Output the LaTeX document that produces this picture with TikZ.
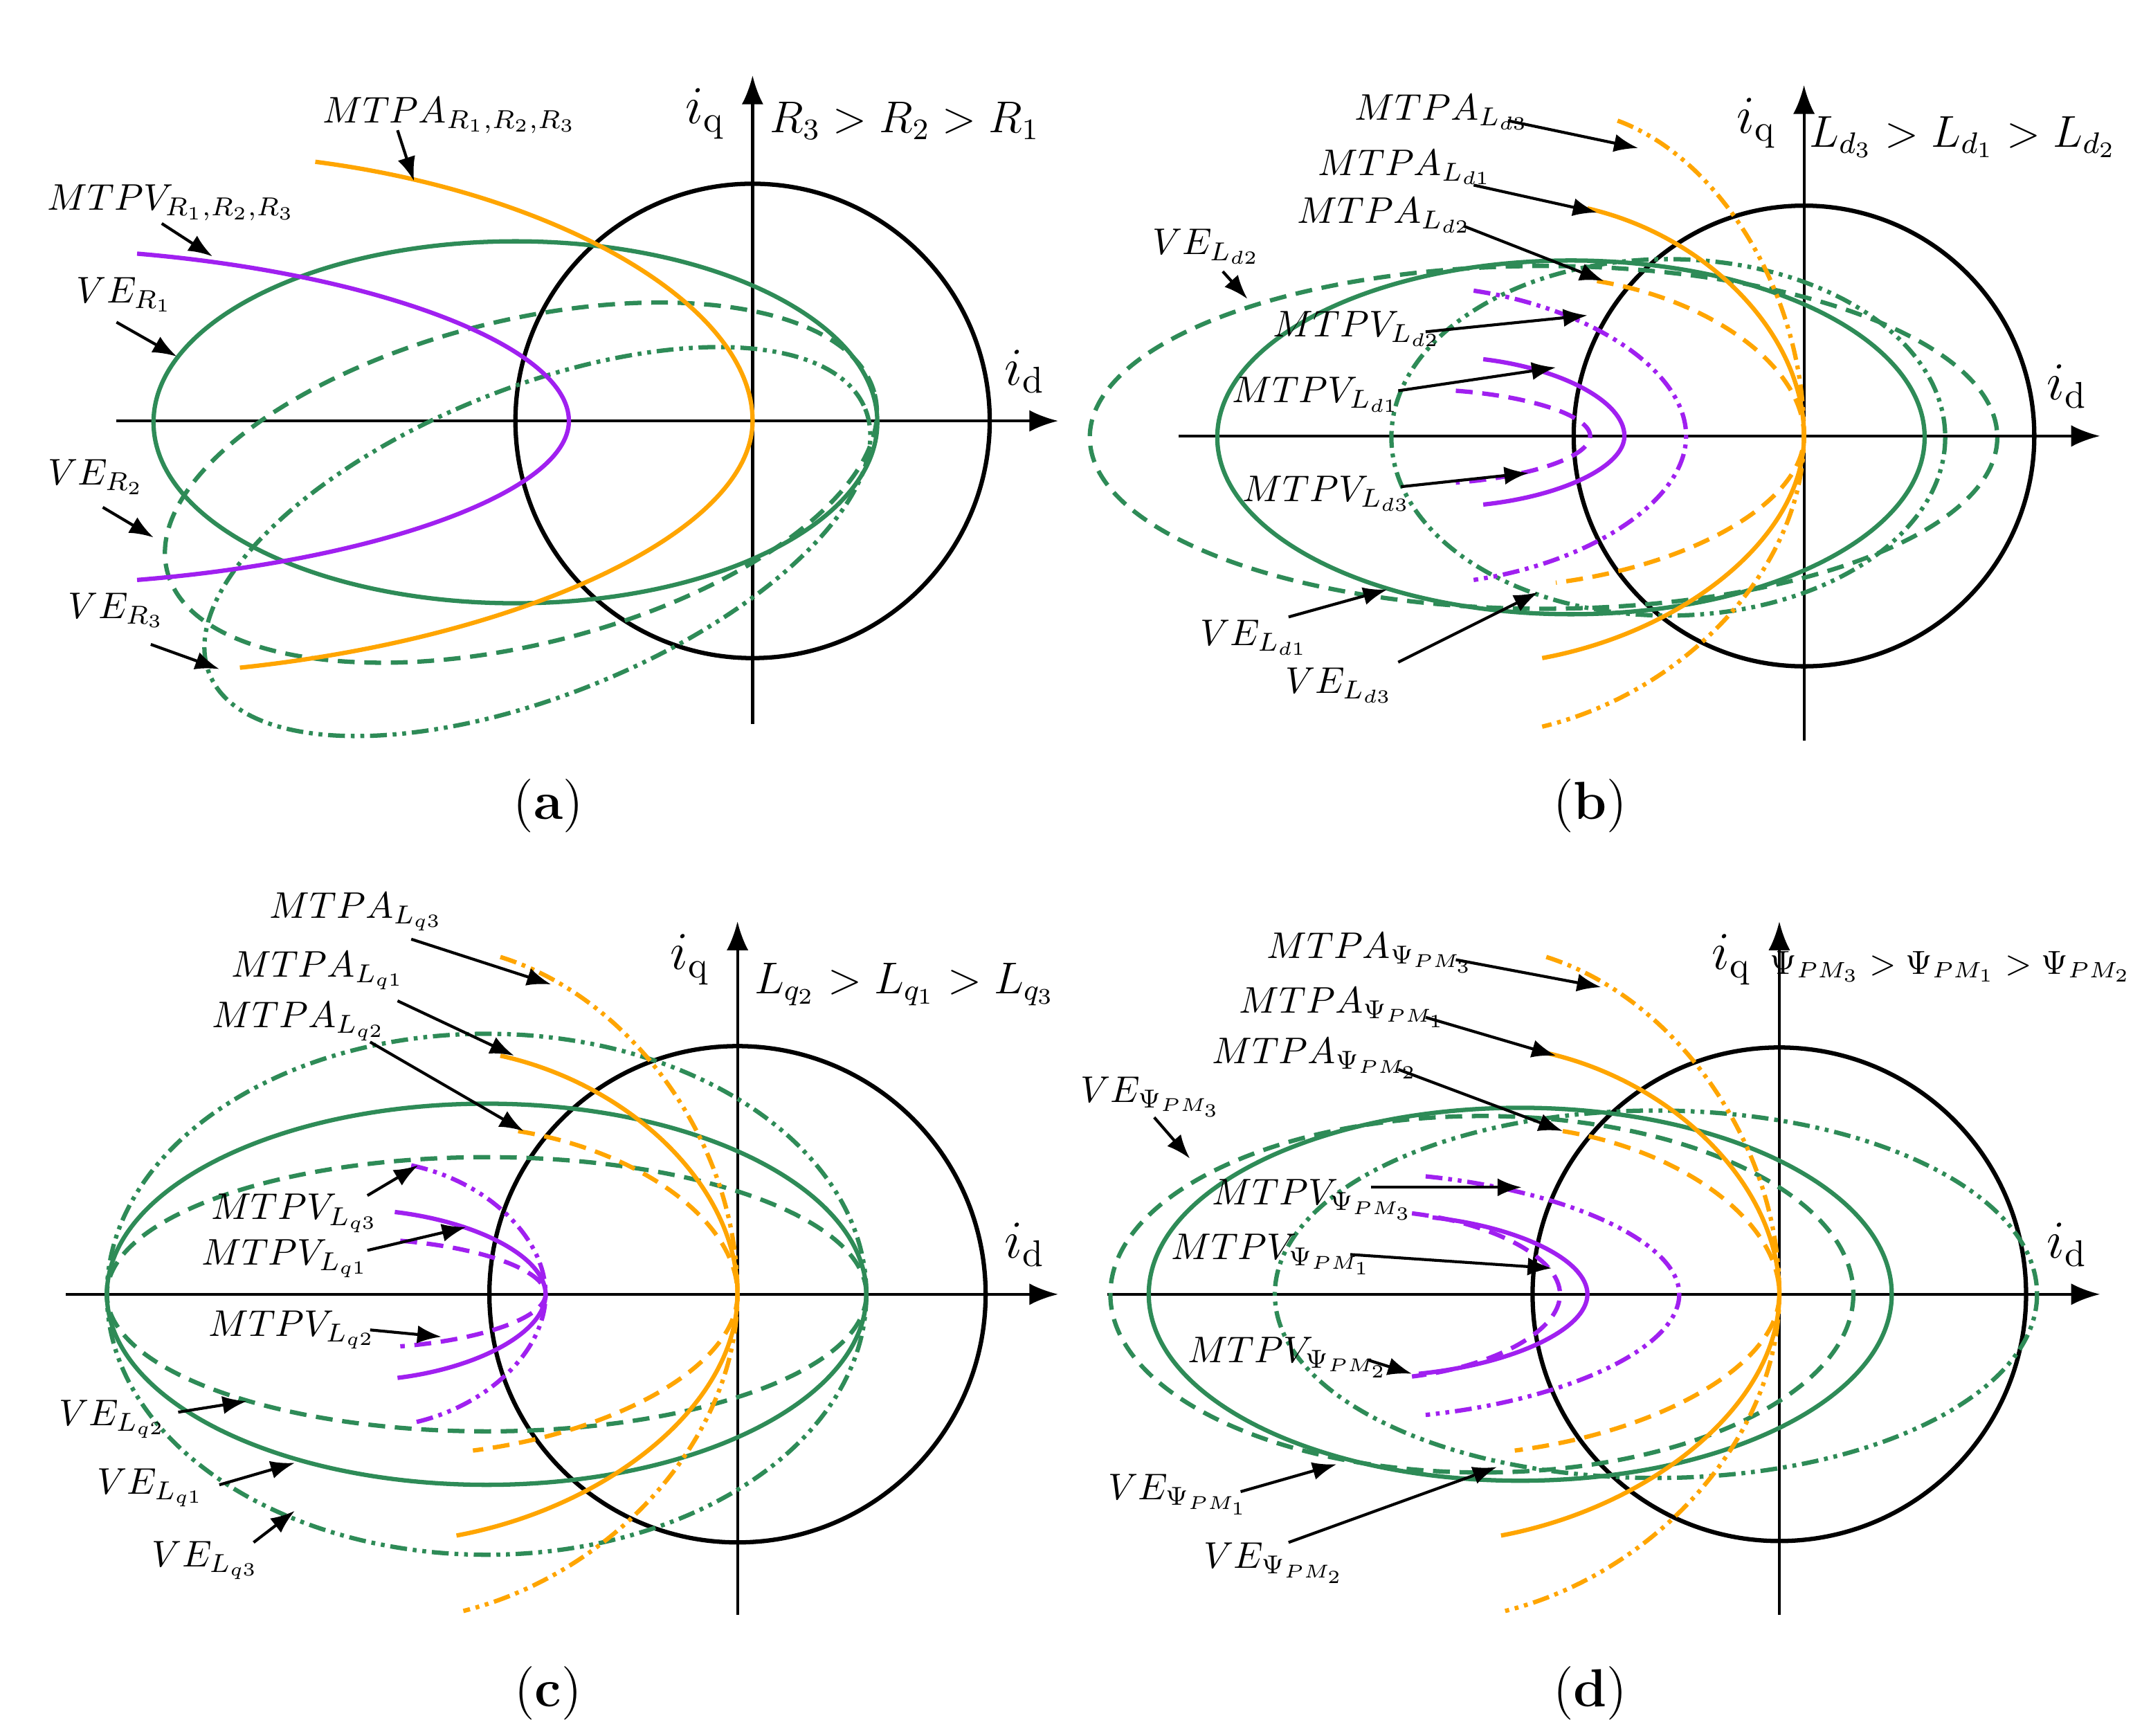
\documentclass[tikz,border=0pt]{standalone}
\usepackage{tikz}
\usetikzlibrary{arrows.meta}
\definecolor{mtpaorange}{RGB}{255,165,0}
\definecolor{vegreen}{RGB}{46,139,87}
\definecolor{mtpvpurple}{RGB}{160,32,240}
\tikzstyle{ax} = [line width=0.6pt,-{Latex[length=6pt]}]
\tikzstyle{cl} = [line width=0.9pt,black]
\tikzstyle{ve} = [line width=0.9pt,vegreen]
\tikzstyle{mtpa} = [line width=0.9pt,mtpaorange]
\tikzstyle{mtpv} = [line width=0.9pt,mtpvpurple]
\tikzstyle{dsh} = [dash pattern=on 3.5pt off 2pt]
\tikzstyle{ddd} = [dash pattern=on 3.5pt off 1.2pt on 0.8pt off 1.2pt on 0.8pt off 1.2pt]
\tikzstyle{lbl} = [inner sep=1pt]
\tikzstyle{callarrow} = [line width=0.6pt,-{Latex[length=5pt]}]
% curve from top end through the vertex to the bottom end
\newcommand{\bend}[7]{
    \draw[#1] (#4,#5) .. controls ({#4+0.55*(#2-#4)},{#5+0.12*(#3-#5)}) and (#2,{#3-0.45*(#3-#5)}) .. (#2,#3)
        .. controls (#2,{#3+0.45*(#7-#3)}) and ({#6+0.55*(#2-#6)},{#7-0.12*(#7-#3)}) .. (#6,#7);
}
% label with an arrow
\newcommand{\callout}[6]{
    \node(#1) [lbl] at (#3) {#2};
    \coordinate(#1s) at (#4);
    \coordinate(#1e) at (#5);
    \draw[callarrow] (#1s) -- (#1e);
}
\newcommand{\axes}[8]{
    \coordinate(#1o) at (#2,#3);
    \draw[ax] (#4,#3) -- (#5,#3) coordinate(#1d);
    \draw[ax] (#2,#6) -- (#2,#7) coordinate(#1q);
    \node at (#1d) [anchor=south east,yshift=4pt] {\Large $i_{\mathrm{d}}$};
    \node at (#1q) [anchor=north east,xshift=-4pt] {\Large $i_{\mathrm{q}}$};
}

\begin{document}
\begin{tikzpicture}[x=0.01cm,y=-0.01cm,every node/.style={scale=0.77}]
    \useasboundingbox (0,0) rectangle (1556,1266);

    % (a)
    \axes{a}{549}{307}{85}{772}{528}{55}{}
    \node(ra) at (660,88) {\large $R_3>R_2>R_1$};
    \draw[cl] (549,307) circle[radius=173];
    \draw[ve] (376,308) ellipse[x radius=264, y radius=132];
    \draw[ve,dsh,rotate around={14:(380,352)}] (380,352) ellipse[x radius=266, y radius=118];
    \draw[ve,ddd,rotate around={22:(392,395)}] (392,395) ellipse[x radius=258, y radius=112];
    \bend{mtpv}{415}{307}{100}{185}{100}{423}
    \bend{mtpa}{549}{307}{230}{118}{175}{487}
    \callout{ma}{$MTPA_{R_1,R_2,R_3}$}{328,84}{290,95}{302,132}{}
    \callout{va}{$MTPV_{R_1,R_2,R_3}$}{125,148}{118,163}{155,187}{}
    \callout{vea1}{$VE_{R_1}$}{91,215}{85,235}{129,260}{}
    \callout{vea2}{$VE_{R_2}$}{70,348}{75,370}{112,392}{}
    \callout{vea3}{$VE_{R_3}$}{85,445}{110,470}{160,488}{}
    \node(capa) at (400,588) {\Large (\textbf{a})};

    % (b)
    \axes{b}{1316}{318}{860}{1532}{540}{62}{}
    \node(rb) at (1432,100) {\large $L_{d_3}>L_{d_1}>L_{d_2}$};
    \draw[cl] (1316,318) circle[radius=168];
    \draw[ve] (1146,319) ellipse[x radius=258, y radius=129];
    \draw[ve,dsh] (1126,319) ellipse[x radius=331, y radius=125];
    \draw[ve,ddd] (1217,319) ellipse[x radius=202, y radius=130];
    \bend{mtpa}{1316}{318}{1158}{152}{1125}{480}
    \bend{mtpa,dsh}{1316}{318}{1165}{205}{1135}{425}
    \bend{mtpa,ddd}{1316}{318}{1180}{88}{1125}{530}
    \bend{mtpv}{1185}{318}{1082}{262}{1082}{368}
    \bend{mtpv,dsh}{1160}{318}{1062}{285}{1062}{352}
    \bend{mtpv,ddd}{1230}{318}{1075}{212}{1075}{423}
    \callout{mb3}{$MTPA_{L_{d3}}$}{1052,82}{1100,88}{1195,108}{}
    \callout{mb1}{$MTPA_{L_{d1}}$}{1025,122}{1075,135}{1165,155}{}
    \callout{mb2}{$MTPA_{L_{d2}}$}{1010,157}{1068,165}{1170,205}{}
    \callout{veb2}{$VE_{L_{d2}}$}{880,180}{892,198}{910,218}{}
    \callout{vb2}{$MTPV_{L_{d2}}$}{990,240}{1040,242}{1158,230}{}
    \callout{vb1}{$MTPV_{L_{d1}}$}{960,288}{1020,285}{1135,268}{}
    \callout{vb3}{$MTPV_{L_{d3}}$}{968,360}{1022,355}{1115,345}{}
    \callout{veb1}{$VE_{L_{d1}}$}{915,465}{940,450}{1012,430}{}
    \callout{veb3}{$VE_{L_{d3}}$}{977,500}{1020,483}{1122,432}{}
    \node(capb) at (1160,588) {\Large (\textbf{b})};

    % (c)
    \axes{c}{538}{944}{48}{772}{1178}{672}{}
    \node(rc) at (660,718) {\large $L_{q_2}>L_{q_1}>L_{q_3}$};
    \draw[cl] (538,944) circle[radius=181];
    \draw[ve] (355,944) ellipse[x radius=277, y radius=139];
    \draw[ve,dsh] (355,944) ellipse[x radius=277, y radius=100];
    \draw[ve,ddd] (355,944) ellipse[x radius=277, y radius=190];
    \bend{mtpa}{538}{944}{365}{770}{333}{1120}
    \bend{mtpa,dsh}{538}{944}{378}{825}{345}{1058}
    \bend{mtpa,ddd}{538}{944}{365}{698}{338}{1175}
    \bend{mtpv}{398}{944}{288}{884}{290}{1005}
    \bend{mtpv,dsh}{398}{944}{292}{905}{292}{982}
    \bend{mtpv,ddd}{398}{944}{300}{850}{300}{1038}
    \callout{mc3}{$MTPA_{L_{q3}}$}{260,665}{300,685}{402,718}{}
    \callout{mc1}{$MTPA_{L_{q1}}$}{232,708}{290,730}{375,770}{}
    \callout{mc2}{$MTPA_{L_{q2}}$}{218,745}{270,760}{382,825}{}
    \callout{vc3}{$MTPV_{L_{q3}}$}{215,885}{268,872}{305,850}{}
    \callout{vc1}{$MTPV_{L_{q1}}$}{208,918}{268,912}{340,895}{}
    \callout{vc2}{$MTPV_{L_{q2}}$}{213,970}{270,970}{322,975}{}
    \callout{vec2}{$VE_{L_{q2}}$}{82,1035}{130,1030}{180,1022}{}
    \callout{vec1}{$VE_{L_{q1}}$}{110,1085}{160,1083}{215,1067}{}
    \callout{vec3}{$VE_{L_{q3}}$}{150,1138}{185,1125}{215,1102}{}
    \node(capc) at (400,1235) {\Large (\textbf{c})};

    % (d)
    \axes{d}{1298}{944}{808}{1532}{1178}{672}{}
    \node(rd) at (1423,705) {\small $\Psi_{PM_3}>\Psi_{PM_1}>\Psi_{PM_2}$};
    \draw[cl] (1298,944) circle[radius=180];
    \draw[ve] (1109,944) ellipse[x radius=271, y radius=136];
    \draw[ve,dsh] (1081,944) ellipse[x radius=271, y radius=130];
    \draw[ve,ddd] (1208,944) ellipse[x radius=278, y radius=134];
    \bend{mtpa}{1298}{944}{1128}{768}{1095}{1120}
    \bend{mtpa,dsh}{1298}{944}{1140}{825}{1105}{1058}
    \bend{mtpa,ddd}{1298}{944}{1128}{698}{1098}{1175}
    \bend{mtpv}{1158}{944}{1045}{888}{1035}{1002}
    \bend{mtpv,dsh}{1138}{944}{1030}{885}{1030}{1004}
    \bend{mtpv,ddd}{1225}{944}{1040}{858}{1040}{1032}
    \callout{md3}{$MTPA_{\Psi_{PM_3}}$}{1000,695}{1062,700}{1168,720}{}
    \callout{md1}{$MTPA_{\Psi_{PM_1}}$}{980,735}{1040,742}{1135,770}{}
    \callout{md2}{$MTPA_{\Psi_{PM_2}}$}{960,772}{1020,780}{1140,825}{}
    \callout{ved3}{$VE_{\Psi_{PM_3}}$}{840,800}{842,815}{868,845}{}
    \callout{vd3}{$MTPV_{\Psi_{PM_3}}$}{958,875}{1000,866}{1110,866}{}
    \callout{vd1}{$MTPV_{\Psi_{PM_1}}$}{928,915}{985,915}{1132,925}{}
    \callout{vd2}{$MTPV_{\Psi_{PM_2}}$}{940,990}{998,992}{1030,1002}{}
    \callout{ved1}{$VE_{\Psi_{PM_1}}$}{860,1090}{905,1088}{975,1068}{}
    \callout{ved2}{$VE_{\Psi_{PM_2}}$}{930,1140}{940,1125}{1092,1070}{}
    \node(capd) at (1160,1235) {\Large (\textbf{d})};
\end{tikzpicture}
\end{document}
